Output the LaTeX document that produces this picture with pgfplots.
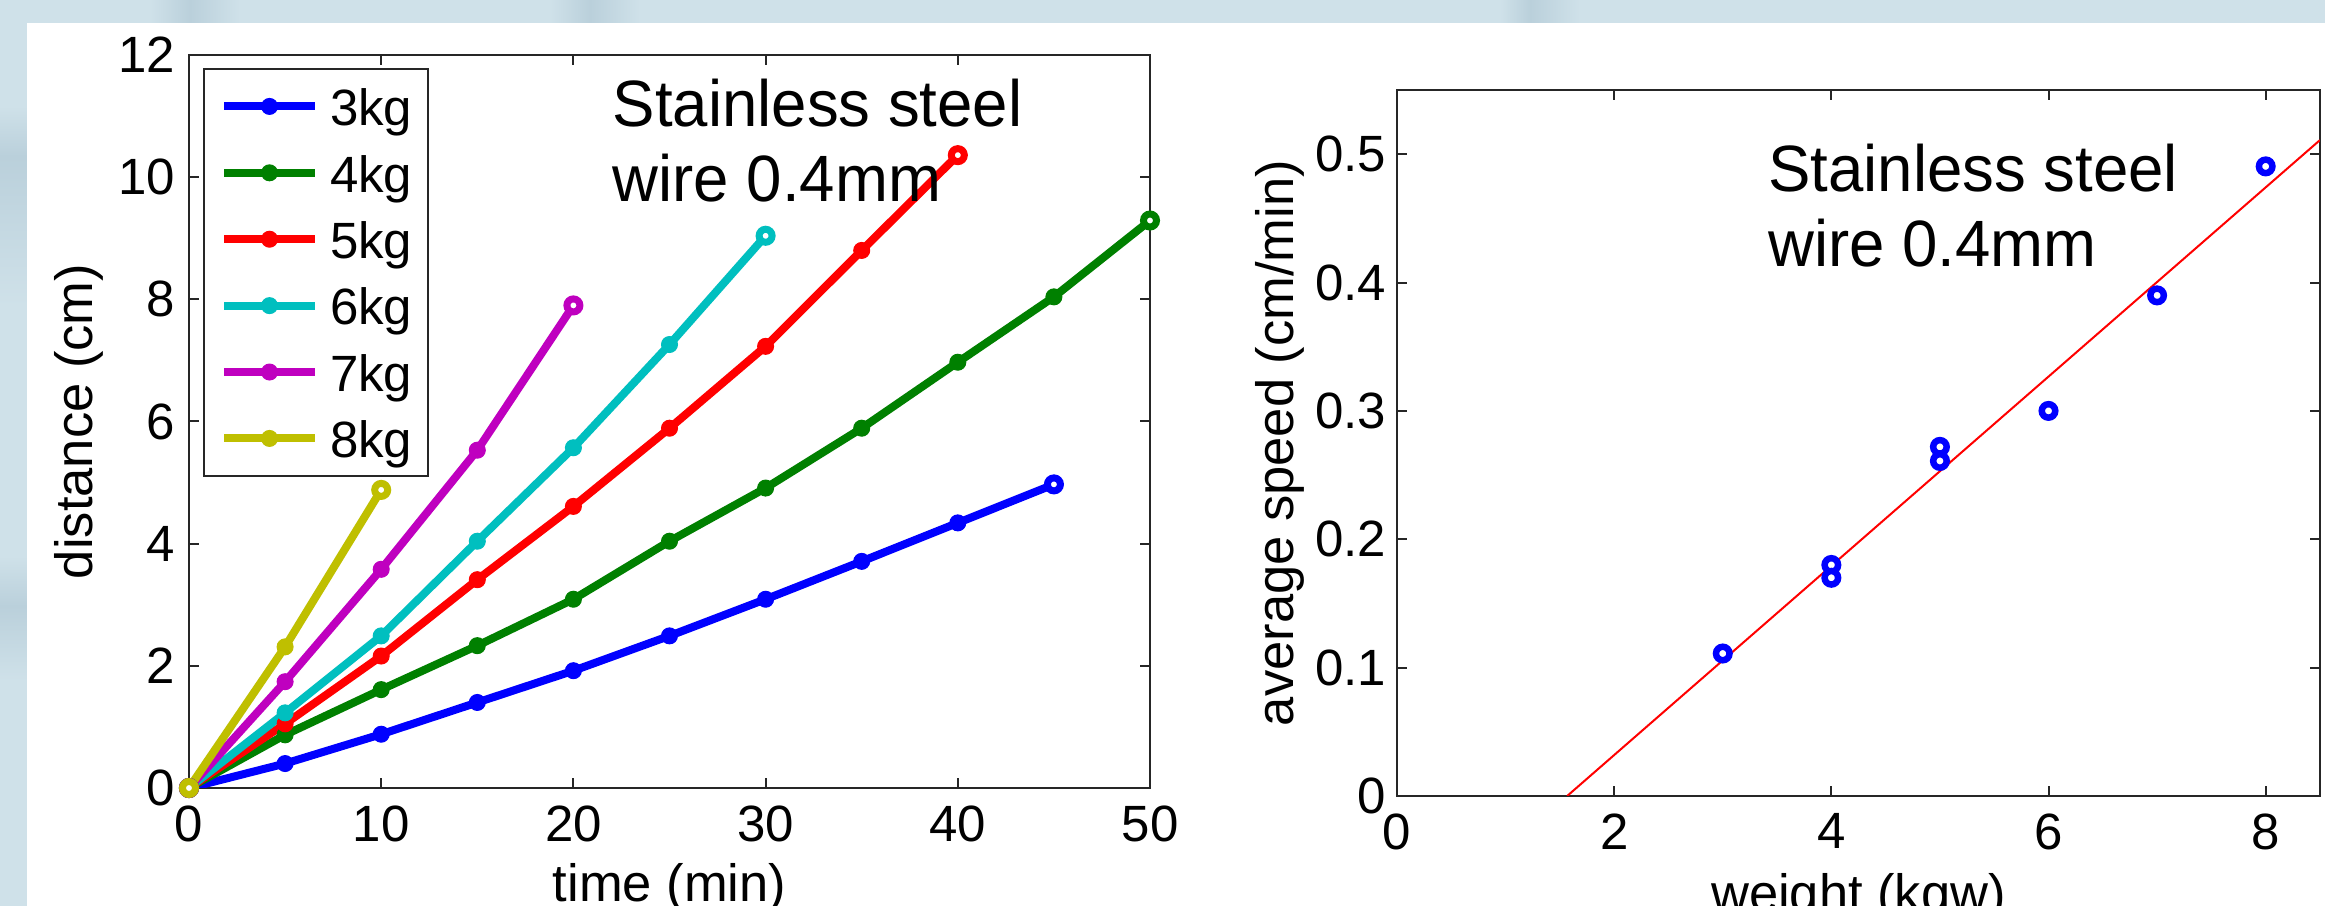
\documentclass[border=0pt]{standalone}
\usepackage{pgfplots}
\pgfplotsset{compat=1.18}
\usepackage{fontspec}
\setmainfont{Liberation Sans}
\newfontfamily\annfont{Liberation Sans}[FakeStretch=0.97]
\definecolor{bgblue}{RGB}{207,225,233}
\definecolor{bgdark}{RGB}{186,208,219}
\definecolor{mgreen}{rgb}{0,0.5,0}
\definecolor{mcyan}{rgb}{0,0.75,0.75}
\definecolor{mmag}{rgb}{0.75,0,0.75}
\definecolor{myel}{rgb}{0.75,0.75,0}
\begin{document}
\begin{tikzpicture}
\fill[bgblue] (0,0) rectangle (465pt,181.2pt);
\shade[left color=bgblue, right color=bgdark] (30pt,176.6pt) rectangle (38pt,181.2pt);
\shade[left color=bgdark, right color=bgblue] (38pt,176.6pt) rectangle (48pt,181.2pt);
\shade[left color=bgblue, right color=bgdark] (110pt,176.6pt) rectangle (118pt,181.2pt);
\shade[left color=bgdark, right color=bgblue] (118pt,176.6pt) rectangle (128pt,181.2pt);
\shade[left color=bgblue, right color=bgdark] (300pt,176.6pt) rectangle (306pt,181.2pt);
\shade[left color=bgdark, right color=bgblue] (306pt,176.6pt) rectangle (316pt,181.2pt);
\shade[top color=bgblue, bottom color=bgdark] (0pt,150pt) rectangle (5.4pt,160pt);
\shade[top color=bgdark, bottom color=bgblue] (0pt,120pt) rectangle (5.4pt,150pt);
\shade[top color=bgblue, bottom color=bgdark] (0pt,60pt) rectangle (5.4pt,70pt);
\shade[top color=bgdark, bottom color=bgblue] (0pt,45pt) rectangle (5.4pt,60pt);
\fill[white] (5.4pt,0) rectangle (465pt,176.6pt);
\pgfplotsset{
  every axis/.append style={
    scale only axis,
    axis line style={line width=0.4pt, black!85},
    every tick/.style={black!85, line width=0.4pt},
    major tick length=2pt,
    tick align=inside,
    /pgf/number format/assume math mode=true,
    ticklabel style={font=\fontsize{10.2}{12}\selectfont},
    label style={font=\fontsize{10.5}{12}\selectfont},
  },
}
% ---------------- left axis ----------------
\begin{axis}[
  at={(37.8pt,23.6pt)}, anchor=south west,
  width=192.2pt, height=146.6pt,
  xmin=0, xmax=50, ymin=0, ymax=12,
  xtick={0,10,20,30,40,50}, ytick={0,2,4,6,8,10,12},
  xlabel={time (min)}, ylabel={distance (cm)},
  xlabel style={at={(axis description cs:0.5,-0.101)}, anchor=north, inner sep=0pt},
  ylabel style={at={(axis description cs:-0.0885,0.5)}, anchor=south, inner sep=0pt},
  yticklabel style={xshift=0.8pt},
  legend style={at={(axis description cs:0.0146,0.982)}, anchor=north west,
    draw=black!85, line width=0.4pt, fill=white,
    font=\fontsize{10.2}{12}\selectfont,
    inner xsep=3.2pt, inner ysep=2.7pt,
    nodes={inner sep=0pt, text height=8.6pt, text depth=0.9pt, anchor=west},
    row sep=3.78pt,
    /tikz/every odd column/.append style={column sep=2.2pt}},
  legend cell align=left,
  legend image code/.code={\draw[mark repeat=2,mark phase=2,#1] plot coordinates {(0pt,0pt) (9.1pt,0pt) (18.2pt,0pt)};},
]
\addplot[blue, line width=1.6pt, mark=*, mark size=1.6pt, mark options={line width=0.2pt}] coordinates {(0,0)(5,0.40)(10,0.88)(15,1.40)(20,1.92)(25,2.49)(30,3.09)(35,3.71)(40,4.34)(45,4.97)};
\addlegendentry{3kg}
\addplot[blue, only marks, mark=*, mark size=1.3pt, mark options={line width=1.4pt, fill=white, draw=blue}, forget plot] coordinates {(0,0)(45,4.97)};
\addplot[mgreen, line width=1.6pt, mark=*, mark size=1.6pt, mark options={line width=0.2pt}] coordinates {(0,0)(5,0.87)(10,1.61)(15,2.33)(20,3.09)(25,4.04)(30,4.91)(35,5.89)(40,6.97)(45,8.04)(50,9.29)};
\addlegendentry{4kg}
\addplot[mgreen, only marks, mark=*, mark size=1.3pt, mark options={line width=1.4pt, fill=white, draw=mgreen}, forget plot] coordinates {(0,0)(50,9.29)};
\addplot[red, line width=1.6pt, mark=*, mark size=1.6pt, mark options={line width=0.2pt}] coordinates {(0,0)(5,1.05)(10,2.16)(15,3.41)(20,4.61)(25,5.89)(30,7.23)(35,8.80)(40,10.36)};
\addlegendentry{5kg}
\addplot[red, only marks, mark=*, mark size=1.3pt, mark options={line width=1.4pt, fill=white, draw=red}, forget plot] coordinates {(0,0)(40,10.36)};
\addplot[mcyan, line width=1.6pt, mark=*, mark size=1.6pt, mark options={line width=0.2pt}] coordinates {(0,0)(5,1.23)(10,2.49)(15,4.04)(20,5.57)(25,7.26)(30,9.04)};
\addlegendentry{6kg}
\addplot[mcyan, only marks, mark=*, mark size=1.3pt, mark options={line width=1.4pt, fill=white, draw=mcyan}, forget plot] coordinates {(0,0)(30,9.04)};
\addplot[mmag, line width=1.6pt, mark=*, mark size=1.6pt, mark options={line width=0.2pt}] coordinates {(0,0)(5,1.74)(10,3.58)(15,5.53)(20,7.90)};
\addlegendentry{7kg}
\addplot[mmag, only marks, mark=*, mark size=1.3pt, mark options={line width=1.4pt, fill=white, draw=mmag}, forget plot] coordinates {(0,0)(20,7.90)};
\addplot[myel, line width=1.6pt, mark=*, mark size=1.6pt, mark options={line width=0.2pt}] coordinates {(0,0)(5,2.31)(10,4.88)};
\addlegendentry{8kg}
\addplot[myel, only marks, mark=*, mark size=1.3pt, mark options={line width=1.4pt, fill=white, draw=myel}, forget plot] coordinates {(0,0)(10,4.88)};
\node[anchor=north west, inner sep=0pt, align=left, font=\annfont\fontsize{13.1}{15}\selectfont] at (axis cs:22.0,11.62) {Stainless steel\\wire 0.4mm};
\end{axis}
% ---------------- right axis ----------------
\begin{axis}[
  at={(279.4pt,22pt)}, anchor=south west,
  width=184.6pt, height=141.2pt,
  xmin=0, xmax=8.5, ymin=0, ymax=0.55,
  xtick={0,2,4,6,8}, ytick={0,0.1,0.2,0.3,0.4,0.5},
  yticklabel style={xshift=1.4pt, /pgf/number format/fixed},
  xlabel={weight (kgw)}, ylabel={average speed (cm/min)},
  xlabel style={at={(axis description cs:0.5,-0.109)}, anchor=north, inner sep=0pt},
  ylabel style={at={(axis description cs:-0.0997,0.5)}, anchor=south, inner sep=0pt},
]
\addplot[red, line width=0.4pt] coordinates {(1.567,0)(8.5,0.511)};
\addplot[blue, only marks, mark=*, mark size=1.35pt, mark options={line width=1.3pt, fill=white, draw=blue}] coordinates {(3,0.111)(4,0.180)(4,0.170)(5,0.272)(5,0.261)(6,0.300)(7,0.390)(8,0.4905)};
\node[anchor=north west, inner sep=0pt, align=left, font=\annfont\fontsize{13.1}{15}\selectfont] at (axis cs:3.41,0.509) {Stainless steel\\wire 0.4mm};
\end{axis}
\pgfresetboundingbox
\useasboundingbox (0,0) rectangle (465pt,181.2pt);
\end{tikzpicture}
\end{document}
